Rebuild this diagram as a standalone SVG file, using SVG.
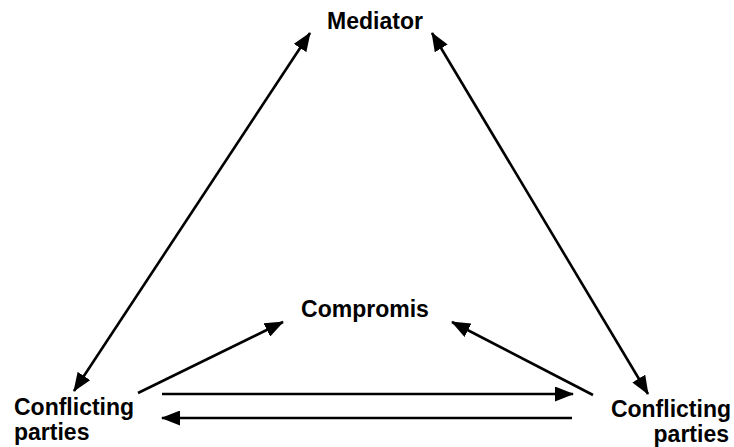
<svg xmlns="http://www.w3.org/2000/svg" width="734" height="447" viewBox="0 0 734 447">
<style>
text{font-family:"Liberation Sans",Arial,sans-serif;font-weight:bold;font-size:23px;fill:#000}
.c line{stroke:#000;stroke-width:2.6;fill:none}
</style>
<defs>
<marker id="ah" markerUnits="userSpaceOnUse" markerWidth="19" markerHeight="15" viewBox="0 0 19 15" refX="18" refY="7.5" orient="auto-start-reverse">
<path d="M0,0 L19,7.5 L0,15 z" fill="#000"/>
</marker>
</defs>
<rect width="734" height="447" fill="#fff"/>
<g id="mediator"><text x="375" y="29" text-anchor="middle">Mediator</text></g>
<g id="compromis"><text x="365" y="317" text-anchor="middle">Compromis</text></g>
<g id="partiesLeft"><text x="14" y="415">Conflicting</text><text x="14" y="440">parties</text></g>
<g id="partiesRight"><text x="731" y="417" text-anchor="end">Conflicting</text><text x="729" y="442" text-anchor="end">parties</text></g>
<g class="c" id="connectors">
<line x1="74" y1="391" x2="310" y2="33" marker-start="url(#ah)" marker-end="url(#ah)"/>
<line x1="648" y1="394" x2="432" y2="33" marker-start="url(#ah)" marker-end="url(#ah)"/>
<line x1="138" y1="393" x2="283" y2="322" marker-end="url(#ah)"/>
<line x1="593" y1="395" x2="452" y2="322" marker-end="url(#ah)"/>
<line x1="162" y1="394" x2="573" y2="394" marker-end="url(#ah)"/>
<line x1="572" y1="418" x2="162" y2="418" marker-end="url(#ah)"/>
</g>
</svg>
